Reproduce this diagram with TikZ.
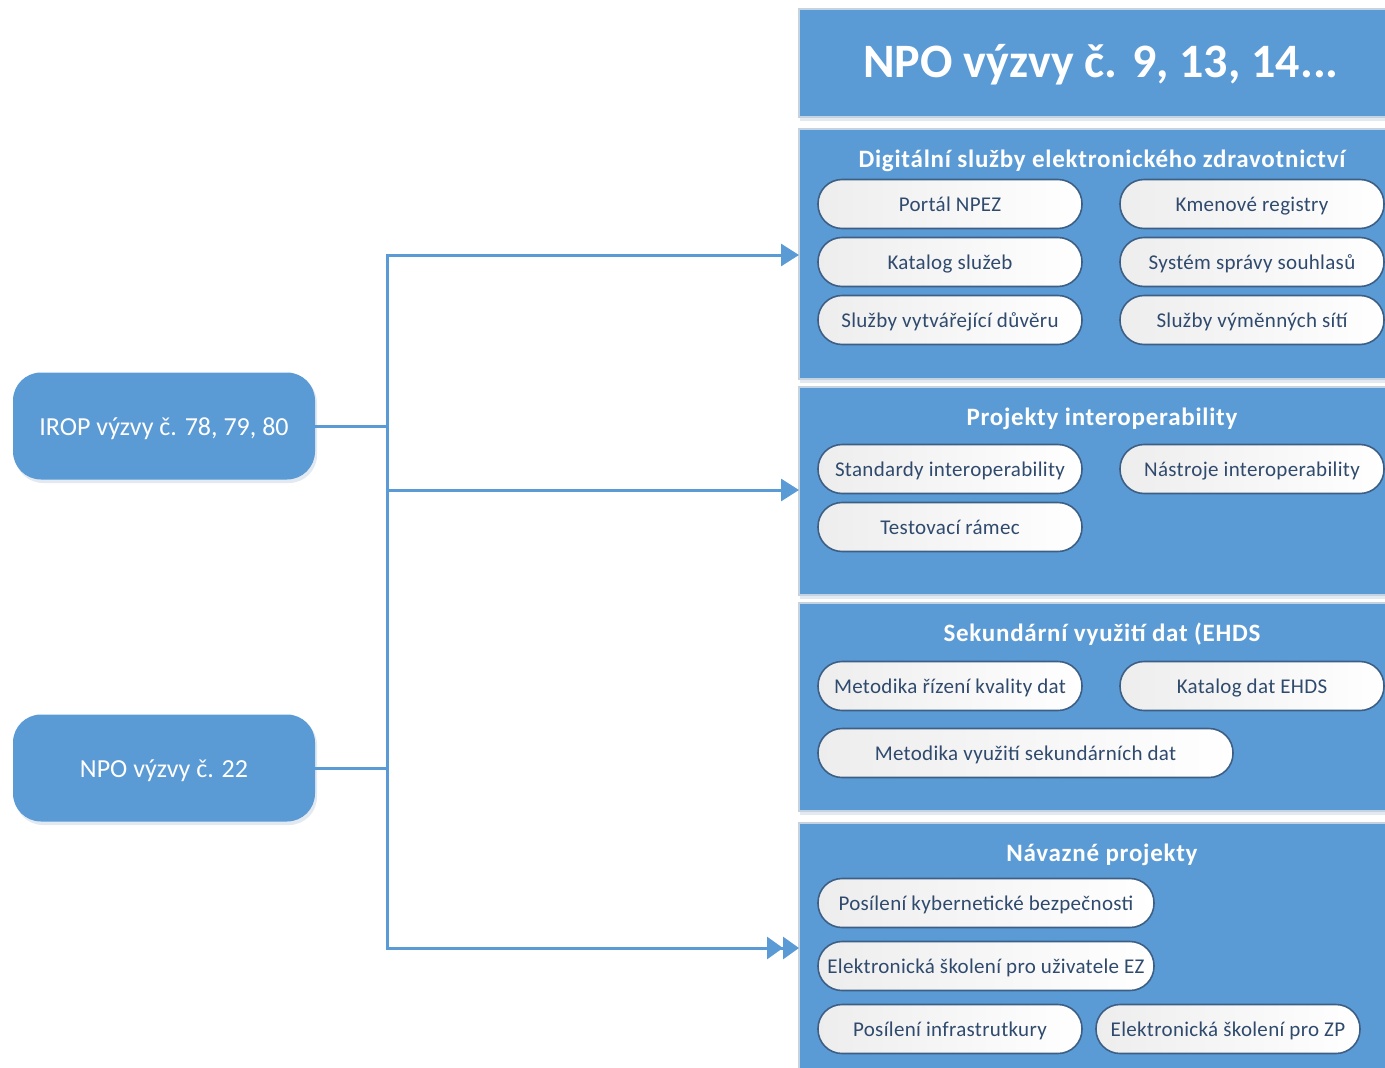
\documentclass[tikz,border=0pt]{standalone}
\usepackage{fontspec}
\setmainfont{Carlito}
\usetikzlibrary{arrows.meta}
\definecolor{panelblue}{HTML}{5B9BD5}
\definecolor{linkblue}{HTML}{5B9BD5}
\definecolor{pilltext}{HTML}{2F4A6D}
\definecolor{pillborder}{HTML}{3D5F86}
\definecolor{shadowgray}{HTML}{E3E9F0}
\definecolor{edgegray}{HTML}{C5D2E0}
\tikzset{
  panel/.style={fill=panelblue, draw=edgegray, line width=1.2pt},
  panelshadow/.style={fill=shadowgray},
  ptitle/.style={text=white, font=\bfseries\fontsize{25}{30}\selectfont\addfontfeature{LetterSpace=3}},
  pill/.style={draw=pillborder, line width=1.6pt, rounded corners=24pt,
    left color=gray!14, right color=white, minimum height=49pt,
    text height=18pt, text depth=2.5pt,
    text=pilltext, font=\fontsize{21}{25}\selectfont\addfontfeature{LetterSpace=1.5}, inner sep=0pt},
  srcbox/.style={fill=panelblue, rounded corners=28pt, minimum width=302pt,
    minimum height=107pt, text height=22pt, text depth=3.6pt,
    text=white, font=\fontsize{26}{30}\selectfont, inner sep=0pt},
  link/.style={draw=linkblue, line width=3pt},
  tip/.style={-{Triangle[length=18pt,width=22pt]}},
  dtip/.style={-{Triangle[length=16pt,width=22pt]Triangle[length=16pt,width=22pt]}}
}
\begin{document}
\begin{tikzpicture}[x=1pt,y=-1pt]
\useasboundingbox (0,0) rectangle (1385,1068);
\clip (0,0) rectangle (1385,1068);
% panel shadows
\fill[panelshadow] (800,12) rectangle (1390,121);
\fill[panelshadow] (800,132) rectangle (1390,383);
\fill[panelshadow] (800,390) rectangle (1390,599);
\fill[panelshadow] (800,606) rectangle (1390,815);
\fill[panelshadow] (800,826) rectangle (1390,1075);
% panels
\draw[panel] (799,9) rectangle (1390,117);
\draw[panel] (799,129) rectangle (1390,379);
\draw[panel] (799,387) rectangle (1390,595);
\draw[panel] (799,603) rectangle (1390,811);
\draw[panel] (799,823) rectangle (1390,1075);
% titles
\node[text=white, font=\bfseries\fontsize{48}{54}\selectfont] (maintitle) at (1101,65) {NPO výzvy č. 9, 13, 14...};
\node[ptitle] (t1) at (1102,161) {Digitální služby elektronického zdravotnictví};
\node[ptitle] (t2) at (1102,419) {Projekty interoperability};
\node[ptitle] (t3) at (1102,634) {Sekundární využití dat (EHDS};
\node[ptitle] (t4) at (1102,855) {Návazné projekty};
% pills panel 1
\node[pill, minimum width=264pt] (a1) at (950,204) {Portál NPEZ};
\node[pill, minimum width=264pt] (a2) at (1252,204) {Kmenové registry};
\node[pill, minimum width=264pt] (a3) at (950,262) {Katalog služeb};
\node[pill, minimum width=264pt] (a4) at (1252,262) {Systém správy souhlasů};
\node[pill, minimum width=264pt] (a5) at (950,320) {Služby vytvářející důvěru};
\node[pill, minimum width=264pt] (a6) at (1252,320) {Služby výměnných sítí};
% panel 2
\node[pill, minimum width=264pt] (b1) at (950,469) {Standardy interoperability};
\node[pill, minimum width=264pt] (b2) at (1252,469) {Nástroje interoperability};
\node[pill, minimum width=264pt] (b3) at (950,527) {Testovací rámec};
% panel 3
\node[pill, minimum width=264pt] (c1) at (950,686) {Metodika řízení kvality dat};
\node[pill, minimum width=264pt] (c2) at (1252,686) {Katalog dat EHDS};
\node[pill, minimum width=415pt] (c3) at (1025.5,753) {Metodika využití sekundárních dat};
% panel 4
\node[pill, minimum width=336pt] (d1) at (986,903) {Posílení kybernetické bezpečnosti};
\node[pill, minimum width=336pt] (d2) at (986,966) {Elektronická školení pro uživatele EZ};
\node[pill, minimum width=264pt] (d3) at (950,1029) {Posílení infrastrutkury};
\node[pill, minimum width=264pt] (d4) at (1228,1029) {Elektronická školení pro ZP};
% source boxes
\fill[shadowgray, rounded corners=28pt] (15,375) rectangle (317,483);
\fill[shadowgray, rounded corners=28pt] (15,717) rectangle (317,825);
\node[srcbox] (irop) at (164,426) {IROP výzvy č. 78, 79, 80};
\node[srcbox] (npo) at (164,768) {NPO výzvy č. 22};
% connectors
\coordinate (bt) at (387,255);
\coordinate (bm) at (387,490);
\coordinate (bb) at (387,948);
\coordinate (e1) at (799,255);
\coordinate (e2) at (799,490);
\coordinate (e4) at (799,948);
\draw[link, line cap=rect] (bt) -- (bb);
\draw[link] (irop.east) -- (irop.east -| bt);
\draw[link] (npo.east) -- (npo.east -| bt);
\draw[link, tip] (bt) -- (e1);
\draw[link, tip] (bm) -- (e2);
\draw[link, dtip] (bb) -- (e4);
\end{tikzpicture}
\end{document}
